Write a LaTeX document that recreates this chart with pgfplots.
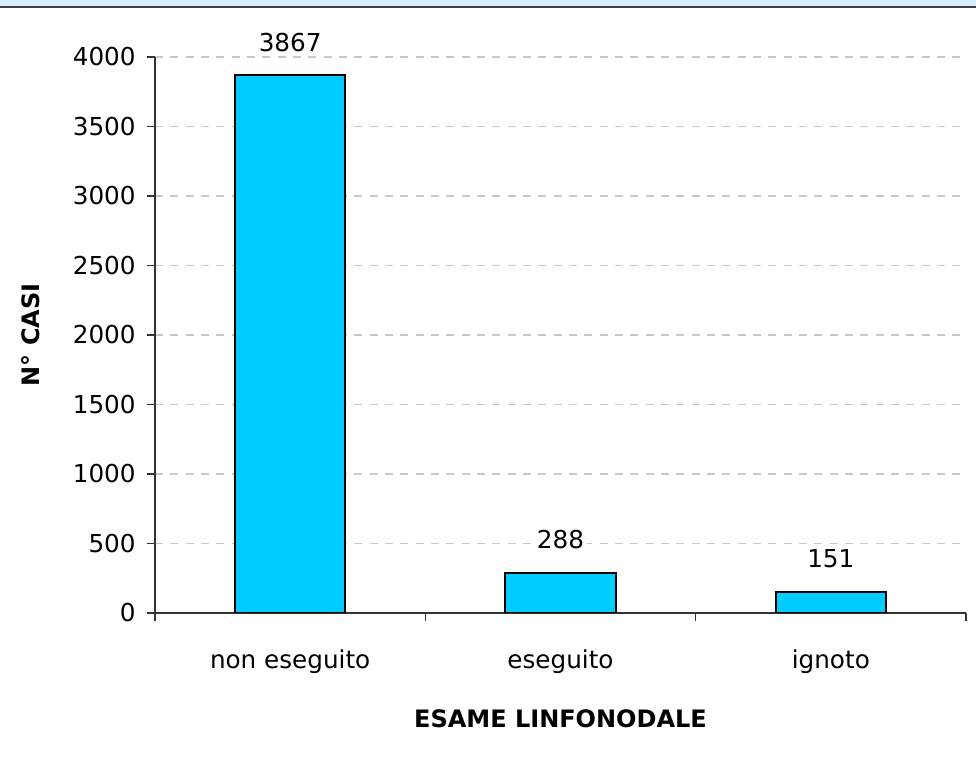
\documentclass[border=0pt]{standalone}
\usepackage{pgfplots}
\pgfplotsset{compat=1.18}
\usepackage{fontspec}
\setmainfont{DejaVu Sans}
\definecolor{barblue}{HTML}{00CCFF}
\definecolor{strip}{HTML}{D8ECFB}
\definecolor{stripline}{HTML}{3C3F4A}
\definecolor{gridgray}{HTML}{C8C8C8}
\begin{document}
\begin{tikzpicture}[x=0.75pt,y=0.75pt]
\useasboundingbox (0,0) rectangle (976,774);
\fill[white] (0,0) rectangle (976,774);
\fill[strip] (0,767) rectangle (976,774);
\draw[stripline,line width=1.5pt] (0,767) -- (976,767);
\begin{axis}[
  at={(155*0.75pt,161*0.75pt)}, anchor=south west,
  scale only axis, width=811*0.75pt, height=556*0.75pt,
  xmin=-0.5, xmax=2.5, ymin=0, ymax=4000,
  axis x line*=bottom, axis y line*=left,
  axis line style={-, line width=0.9pt, black!80},
  xtick={-0.5,0.5,1.5,2.5},
  xticklabels={},
  extra x ticks={0,1,2},
  extra x tick labels={non eseguito, eseguito, ignoto},
  extra x tick style={major tick length=0pt, xticklabel style={font=\fontsize{18.5}{18.5}\selectfont, yshift=-24pt}},
  tick style={line width=0.9pt, black!80},
  ytick={0,500,...,4000},
  tick align=outside, major tick length=6pt,
  ymajorgrids,
  grid style={gridgray, line width=0.8pt, dash pattern=on 6pt off 5.5pt},
  yticklabel style={font=\fontsize{18.5}{18.5}\selectfont, xshift=-5pt},
  /pgf/number format/assume math mode=true,
  scaled y ticks=false,
  yticklabel={\pgfmathprintnumber[1000 sep={}]{\tick}},
  ylabel={\textbf{N° CASI}},
  ylabel style={font=\fontsize{18}{18}\selectfont, at={(ticklabel cs:0.5)}, anchor=south, yshift=18pt},
  xlabel={\textbf{ESAME LINFONODALE}},
  xlabel style={font=\fontsize{18}{18}\selectfont, yshift=-14pt},
  ybar, bar width=0.407,
  nodes near coords,
  nodes near coords style={font=\fontsize{18.5}{18.5}\selectfont, fill=white, inner sep=2pt, anchor=south, yshift=15pt},
  /pgf/number format/1000 sep={},
]
\addplot[fill=barblue, draw=black, line width=1.5pt] coordinates {(0,3867) (1,288) (2,151)};
\end{axis}
\end{tikzpicture}
\end{document}
